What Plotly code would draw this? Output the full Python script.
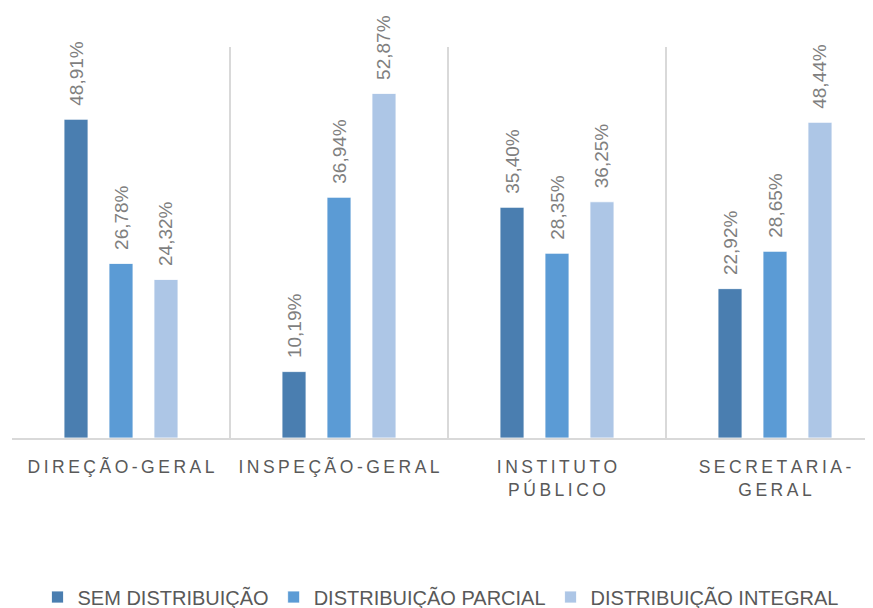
import plotly.graph_objects as go

categories = ["DIREÇÃO-GERAL", "INSPEÇÃO-GERAL", "INSTITUTO<br>PÚBLICO", "SECRETARIA-<br>GERAL"]
series_names = ["SEM DISTRIBUIÇÃO", "DISTRIBUIÇÃO PARCIAL", "DISTRIBUIÇÃO INTEGRAL"]
sem_distribuicao = [48.91, 10.19, 35.40, 22.92]
distribuicao_parcial = [26.78, 36.94, 28.35, 28.65]
distribuicao_integral = [24.32, 52.87, 36.25, 48.44]
colors = ["#4A7EB0", "#5B9BD5", "#ADC6E6"]

positions = list(range(len(categories)))

def spaced(label):
    lines = label.split("<br>")
    return "<br>".join("\u2009".join(list(l)) for l in lines)

tick_text = [spaced(c) for c in categories]

fig = go.Figure()
for name, vals, col in zip(series_names, [sem_distribuicao, distribuicao_parcial, distribuicao_integral], colors):
    fig.add_trace(go.Bar(
        x=positions, y=vals, name=name,
        marker=dict(color=col, line=dict(color="white", width=0.8)),
        texttemplate="\u00a0\u00a0%{y:.2f}%",
        textposition="outside",
        textangle=-90,
        constraintext="none",
        cliponaxis=False,
        textfont=dict(family="Liberation Sans", size=19, color="#7F7F7F"),
        hoverinfo="skip",
    ))

# page body has an 8px margin: compensate so the plot lands where the reference has it
W, H = 865, 600
left, right, top, bottom = 4, 0, 39, 169.5
cat_px = 218.0
plot_w = W - left - right

fig.update_layout(
    width=W, height=H,
    margin=dict(l=left, r=right, t=top, b=bottom, pad=0),
    paper_bgcolor="white", plot_bgcolor="white",
    barmode="group", bargap=0.381, bargroupgap=0.467,
    separators=",.",
    showlegend=True,
    legend=dict(orientation="h", x=0.5, xanchor="center", xref="container",
                y=0.0183, yanchor="middle", yref="container",
                font=dict(family="Liberation Sans", size=20, color="#595959"),
                itemwidth=30, traceorder="normal"),
    font=dict(family="Liberation Sans", color="#595959"),
)
fig.update_xaxes(
    range=[-0.5, -0.5 + plot_w / cat_px],
    tickmode="array", tickvals=positions, ticktext=tick_text,
    tickfont=dict(family="Liberation Sans", size=17.5, color="#595959"),
    showgrid=False, ticks="", ticklabelstandoff=12,
    showline=True, linecolor="#D9D9D9", linewidth=2,
    minor=dict(tick0=0.5, dtick=1, showgrid=True, gridcolor="#D9D9D9", gridwidth=1.5, ticks=""),
    zeroline=False, fixedrange=True,
)
fig.update_yaxes(range=[0, 60], visible=False, showgrid=False, zeroline=False)

fig.write_html("out.html")
